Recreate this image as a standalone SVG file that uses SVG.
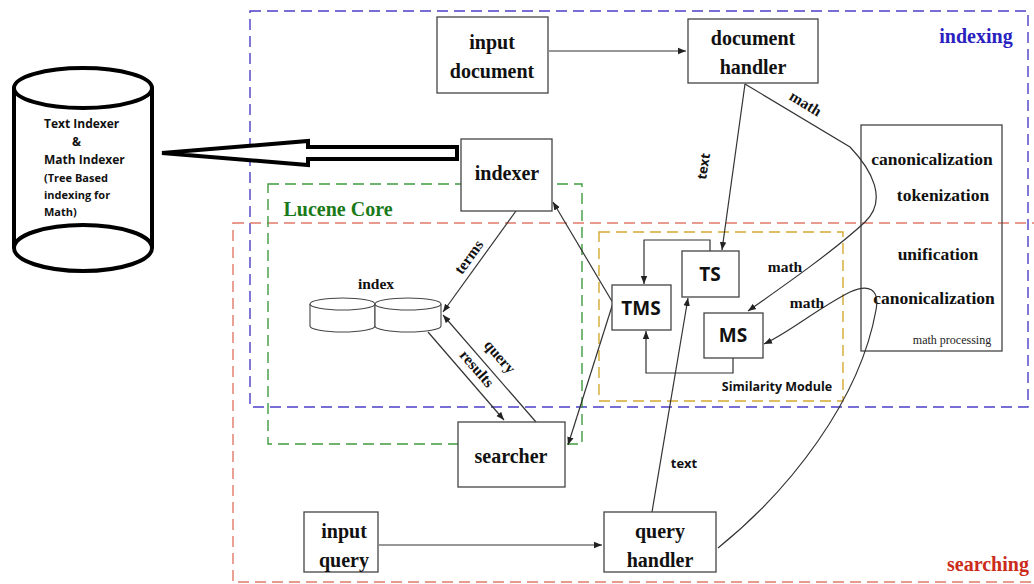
<svg xmlns="http://www.w3.org/2000/svg" width="1034" height="584" viewBox="0 0 1034 584">
<defs>
<marker id="ah" viewBox="0 0 10 10" refX="10" refY="5" markerWidth="8" markerHeight="8" orient="auto" markerUnits="userSpaceOnUse">
<path d="M0,1 L10,5 L0,9 z" fill="#222"/>
</marker>
<style>
.box{fill:#fff;stroke:#444;stroke-width:1.3}
.sv{font-family:"Liberation Serif",serif;font-weight:bold;font-size:20px;fill:#111;text-anchor:middle}
.sm{font-family:"Liberation Serif",serif;font-weight:bold;font-size:15.5px;fill:#111;text-anchor:middle}
.mp{font-family:"Liberation Serif",serif;font-weight:bold;font-size:17.5px;fill:#111;text-anchor:middle}
.ss{font-family:"Open Sans","Liberation Sans",sans-serif;font-weight:bold;fill:#111;text-anchor:middle}
.ln{fill:none;stroke:#333;stroke-width:1.2}
.dash{fill:none;stroke-width:1.4;stroke-dasharray:11 6}
</style>
</defs>
<rect width="1034" height="584" fill="#fff"/>

<g id="regions">
<rect class="dash" x="250" y="11" width="778" height="396" stroke="#4a3fc8"/>
<rect class="dash" x="233" y="223" width="806" height="359" stroke="#e07a68"/>
<rect class="dash" x="268" y="184" width="314" height="260" stroke="#3f9a3f"/>
<rect class="dash" x="599" y="232" width="244" height="169" stroke="#d4a830"/>
<text x="976" y="43" font-family="Liberation Serif,serif" font-weight="bold" font-size="20" fill="#2a22c0" text-anchor="middle">indexing</text>
<text x="988" y="571" font-family="Liberation Serif,serif" font-weight="bold" font-size="20" fill="#cc2a1a" text-anchor="middle">searching</text>
<text x="338" y="216" font-family="Liberation Serif,serif" font-weight="bold" font-size="20" fill="#1a7a1a" text-anchor="middle">Lucene Core</text>
<text x="777" y="391" class="ss" font-size="12.5">Similarity Module</text>
</g>

<g id="store">
<path d="M14,88 L14,248 A69,23 0 0 0 152,248 L152,88" fill="#fff" stroke="#000" stroke-width="4"/>
<ellipse cx="83" cy="88" rx="69" ry="20" fill="#fff" stroke="#000" stroke-width="4"/>
<path d="M14,248 A69,23 0 0 1 152,248" fill="none" stroke="#000" stroke-width="4"/>
<g font-family="Open Sans,Liberation Sans,sans-serif" font-weight="bold" font-size="12" fill="#111">
<text x="44" y="128">Text Indexer</text>
<text x="72" y="146">&amp;</text>
<text x="44" y="164">Math Indexer</text>
<text x="44" y="182" font-size="11">(Tree Based</text>
<text x="44" y="199" font-size="11">indexing for</text>
<text x="44" y="216" font-size="11">Math)</text>
</g>
</g>

<g id="bigarrow">
<path d="M457,147 L308,147 L308,141 L162,153 L308,165 L308,159 L457,159 z" fill="#fff" stroke="#000" stroke-width="4" stroke-linejoin="miter"/>
</g>

<g id="math-processing">
<rect x="861" y="125" width="141" height="226" fill="none" stroke="#444" stroke-width="1.3"/>
<text class="mp" x="932" y="165">canonicalization</text>
<text class="mp" x="943" y="201">tokenization</text>
<text class="mp" x="938" y="260">unification</text>
<text class="mp" x="934" y="304">canonicalization</text>
<text x="952" y="344" font-family="Liberation Serif,serif" font-size="12" fill="#222" text-anchor="middle">math processing</text>
</g>

<g id="connectors">
<line class="ln" x1="549" y1="51" x2="686" y2="51" marker-end="url(#ah)"/>
<line class="ln" x1="379" y1="545" x2="602" y2="545" marker-end="url(#ah)"/>
<line class="ln" x1="745" y1="84" x2="722" y2="250" marker-end="url(#ah)"/>
<path class="ln" d="M745,84 L850,147 C872,170 888,200 865,222 C835,250 785,285 748,311" marker-end="url(#ah)"/>
<line class="ln" x1="521" y1="204" x2="443" y2="312" marker-end="url(#ah)"/>
<line class="ln" x1="536" y1="422" x2="443" y2="315" marker-end="url(#ah)"/>
<line class="ln" x1="428" y1="332" x2="504" y2="420" marker-end="url(#ah)"/>
<line class="ln" x1="613" y1="303" x2="553" y2="202" marker-end="url(#ah)"/>
<line class="ln" x1="613" y1="303" x2="568" y2="445" marker-end="url(#ah)"/>
<path class="ln" d="M710,251 L710,240 L644,240 L644,284" marker-end="url(#ah)"/>
<path class="ln" d="M733,358 L733,373 L646,373 L646,331" marker-end="url(#ah)"/>
<line class="ln" x1="652" y1="512" x2="688" y2="298" marker-end="url(#ah)"/>
<path class="ln" d="M718,548 C790,490 860,400 876,310 C880,288 868,284 850,292 C815,310 790,332 764,344" marker-end="url(#ah)"/>
<text x="708" y="167" class="ss" font-size="13" transform="rotate(-81 708 167)">text</text>
<text x="803" y="108" class="sm" font-size="13" transform="rotate(31 803 108)">math</text>
<text x="473" y="260" class="sm" font-size="14" transform="rotate(-54 473 260)">terms</text>
<text x="496" y="360" class="sm" font-size="14" transform="rotate(49 496 360)">query</text>
<text x="473" y="372" class="sm" font-size="14" transform="rotate(49 473 372)">results</text>
<text x="785" y="272" class="sm" font-size="15">math</text>
<text x="807" y="308" class="sm" font-size="15">math</text>
<text x="684" y="468" class="ss" font-size="13">text</text>
</g>

<g id="input-document">
<rect class="box" x="437" y="17" width="111" height="76"/>
<text class="sv" x="492" y="49">input</text>
<text class="sv" x="492" y="78">document</text>
</g>
<g id="document-handler">
<rect class="box" x="688" y="19" width="130" height="64"/>
<text class="sv" x="753" y="45">document</text>
<text class="sv" x="753" y="74">handler</text>
</g>
<g id="indexer">
<rect class="box" x="461" y="139" width="91" height="72"/>
<text class="sv" x="507" y="180">indexer</text>
</g>
<g id="index">
<path d="M310,304 L310,326 A32.5,6 0 0 0 375,326 L375,304" fill="#fff" stroke="#444" stroke-width="1.1"/>
<ellipse cx="342.5" cy="304" rx="32.5" ry="6" fill="#fff" stroke="#444" stroke-width="1.1"/>
<path d="M375,304 L375,326 A33,6 0 0 0 441,326 L441,304" fill="#fff" stroke="#444" stroke-width="1.1"/>
<ellipse cx="408" cy="304" rx="33" ry="6" fill="#fff" stroke="#444" stroke-width="1.1"/>
<text class="sm" x="376" y="289">index</text>
</g>
<g id="TS">
<rect class="box" x="682" y="251" width="57" height="46"/>
<text class="ss" x="710" y="281" font-size="19">TS</text>
</g>
<g id="TMS">
<rect class="box" x="612" y="285" width="59" height="45"/>
<text class="ss" x="641" y="315" font-size="19">TMS</text>
</g>
<g id="MS">
<rect class="box" x="704" y="313" width="59" height="45"/>
<text class="ss" x="733" y="342" font-size="19">MS</text>
</g>
<g id="searcher">
<rect class="box" x="458" y="422" width="107" height="65"/>
<text class="sv" x="511" y="463">searcher</text>
</g>
<g id="input-query">
<rect class="box" x="304" y="512" width="74" height="60"/>
<text class="sv" x="344" y="538">input</text>
<text class="sv" x="344" y="567">query</text>
</g>
<g id="query-handler">
<rect class="box" x="604" y="512" width="112" height="60"/>
<text class="sv" x="660" y="538">query</text>
<text class="sv" x="660" y="567">handler</text>
</g>
</svg>
